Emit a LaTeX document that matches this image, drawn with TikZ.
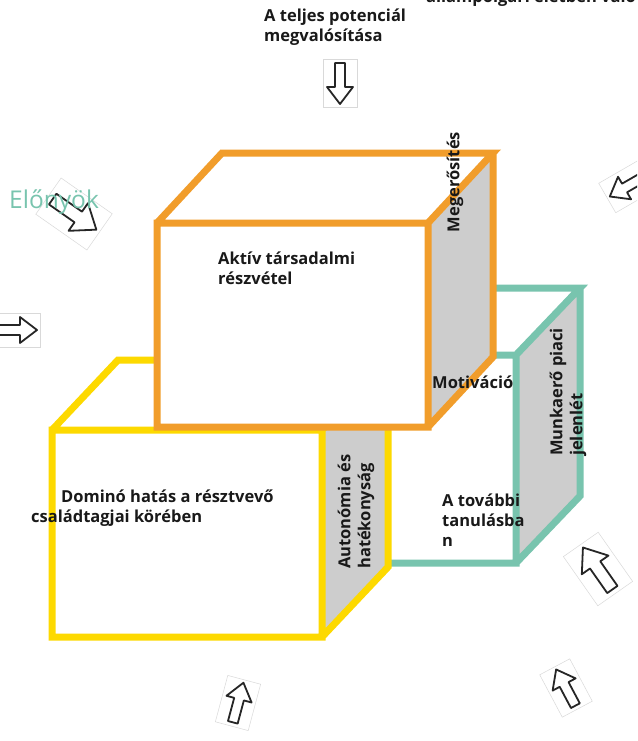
\documentclass[tikz,border=0pt]{standalone}
\usepackage{fontspec}
\setmainfont{Open Sans}
\definecolor{corange}{HTML}{F19D2B}
\definecolor{cyellow}{HTML}{FDD900}
\definecolor{cteal}{HTML}{78C4AE}
\definecolor{cgray}{HTML}{CDCDCD}
\tikzset{
  cubeline/.style={line width=7pt, line join=miter},
  lbl/.style={inner sep=0pt, font=\bfseries\fontsize{16.5}{20}\selectfont, text=black!90, align=left},
  handarrow/.pic={
    \fill[white] (-24,-17) rectangle (24,17);
    \draw[black!15, line width=0.5pt] (-24,-17) rectangle (24,17);
    \draw[black!85, line width=1.8pt, line join=round, fill=white]
      (-20,-5) -- (4,-5) -- (4,-13) -- (21,0) -- (4,13) -- (4,5) -- (-20,5) -- cycle;
  }
}
\begin{document}
\begin{tikzpicture}[x=1pt,y=-1pt]
\useasboundingbox (0,0) rectangle (637,741);
\clip (0,0) rectangle (637,741);
\fill[white] (0,0) rectangle (637,741);

% arrows
\pic[rotate=-90] at (340,83) {handarrow};
\pic[rotate=-35, scale=1.3] at (74,214) {handarrow};
\pic[rotate=210] at (628,186) {handarrow};
\pic[rotate=0] at (16,330) {handarrow};
\pic[rotate=125, scale=1.25] at (598,569) {handarrow};
\pic[rotate=118] at (566,688) {handarrow};
\pic[rotate=75] at (238,703) {handarrow};

% teal cube
\coordinate (tA) at (330,355); \coordinate (tB) at (516,355);
\coordinate (tC) at (516,563); \coordinate (tD) at (330,563);
\coordinate (tE) at (394,288); \coordinate (tF) at (580,288);
\coordinate (tG) at (580,496);
\fill[white] (tA) -- (tB) -- (tC) -- (tD) -- cycle;
\fill[white] (tA) -- (tE) -- (tF) -- (tB) -- cycle;
\fill[cgray] (tB) -- (tF) -- (tG) -- (tC) -- cycle;
\draw[cteal, cubeline] (tA) -- (tB) -- (tC) -- (tD) -- cycle
  (tA) -- (tE) -- (tF) -- (tB) (tF) -- (tG) -- (tC);

% yellow cube
\coordinate (yA) at (52,430); \coordinate (yB) at (322,430);
\coordinate (yC) at (322,637); \coordinate (yD) at (52,637);
\coordinate (yE) at (118,360); \coordinate (yF) at (388,360);
\coordinate (yG) at (388,567);
\fill[white] (yA) -- (yB) -- (yC) -- (yD) -- cycle;
\fill[white] (yA) -- (yE) -- (yF) -- (yB) -- cycle;
\fill[cgray] (yB) -- (yF) -- (yG) -- (yC) -- cycle;
\draw[cyellow, cubeline] (yA) -- (yB) -- (yC) -- (yD) -- cycle
  (yA) -- (yE) -- (yF) -- (yB) (yF) -- (yG) -- (yC);

% orange cube
\coordinate (oA) at (157,223); \coordinate (oB) at (428,223);
\coordinate (oC) at (428,427); \coordinate (oD) at (157,427);
\coordinate (oE) at (222,153); \coordinate (oF) at (493,153);
\coordinate (oG) at (493,357);
\fill[white] (oA) -- (oB) -- (oC) -- (oD) -- cycle;
\fill[white] (oA) -- (oE) -- (oF) -- (oB) -- cycle;
\fill[cgray] (oB) -- (oF) -- (oG) -- (oC) -- cycle;
\draw[corange, cubeline] (oA) -- (oB) -- (oC) -- (oD) -- cycle
  (oA) -- (oE) -- (oF) -- (oB) (oF) -- (oG) -- (oC);

% texts
\node[lbl, anchor=west] (top) at (426,-2) {állampolgári életben való részvételhez};
\node[lbl, anchor=west] (teljes) at (264,27) {A teljes potenciál\\megvalósítása};
\node[inner sep=0pt, anchor=west, text=cteal, font=\fontsize{24.5}{28}\selectfont] (elonyok) at (9,202) {Előnyök};
\node[lbl, anchor=west] (aktiv) at (218,268) {Aktív társadalmi\\részvétel};
\node[lbl, rotate=90] (meger) at (455,182) {Megerősítés};
\node[lbl, anchor=west] (motiv) at (432,382) {Motiváció};
\node[lbl, rotate=90, anchor=west] (munka) at (568,456) {Munkaerő piaci\\jelenlét};
\node[lbl, rotate=90, anchor=west] (auton) at (356,569) {Autonómia és\\hatékonyság};
\node[lbl, anchor=north west] (domino) at (31,490) {\hspace*{30pt}Dominó hatás a résztvevő\\családtagjai körében};
\node[lbl, anchor=west] (tovabbi) at (442,520) {A további\\tanulásba\\n};
\end{tikzpicture}
\end{document}
